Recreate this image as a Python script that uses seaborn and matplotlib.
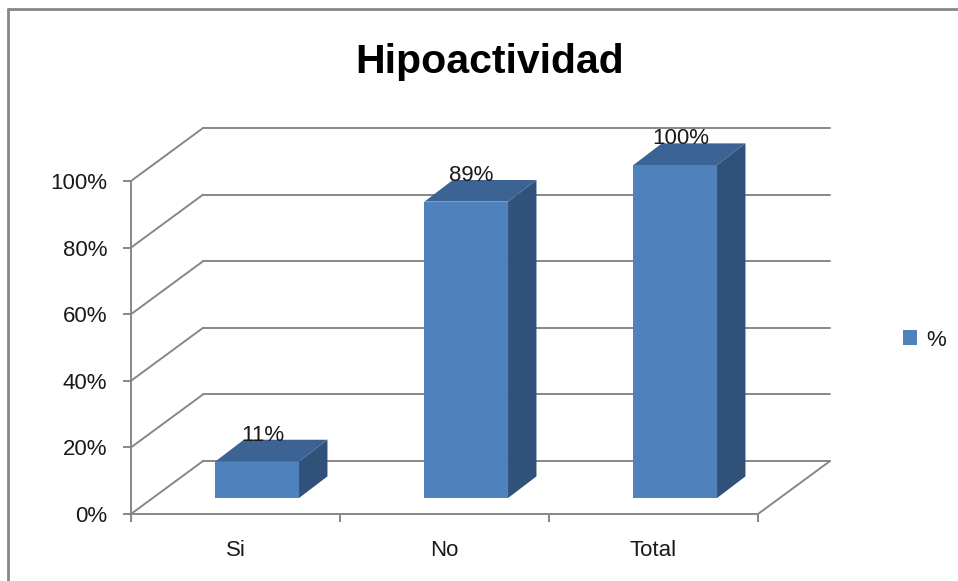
import matplotlib
matplotlib.use("Agg")
import matplotlib.pyplot as plt
from matplotlib.patches import Polygon
from matplotlib.lines import Line2D
import seaborn as sns

# datos del grafico
categories = ["Si", "No", "Total"]
values = [0.11, 0.89, 1.00]
value_labels = ["11%", "89%", "100%"]
y_ticks = [0.0, 0.2, 0.4, 0.6, 0.8, 1.0]
y_tick_labels = ["0%", "20%", "40%", "60%", "80%", "100%"]
series_name = "%"
title = "Hipoactividad"

# colores estilo Excel 3D
FRONT = "#4F81BD"
TOP = "#3B6393"
SIDE = "#30517A"
GRID = "#878787"
TEXT = "#1a1a1a"

# desplazamientos de la perspectiva (en unidades de datos)
WALL_DX, WALL_DY = 0.3445, 0.159   # pared del fondo
BAR_DX, BAR_DY = 0.104, 0.048      # plano frontal de las barras
DEPTH_DX, DEPTH_DY = 0.136, 0.065  # profundidad de cada barra

sns.set_theme(style="white")
plt.rcParams["font.family"] = ["Liberation Sans", "DejaVu Sans"]

W, H = 958, 581
fig = plt.figure(figsize=(W / 100, H / 100), dpi=100)
ax = fig.add_axes([131 / W, (H - 514) / H, (850 - 131) / W, (514 - 110) / H])

sns.barplot(x=categories, y=values, color=FRONT, width=0.4, saturation=1,
            label=series_name, ax=ax, zorder=3, linewidth=0)

# mover las barras al plano de profundidad y dibujar caras laterales y superiores
for p, lab in zip(ax.patches, value_labels):
    p.set_x(p.get_x() + BAR_DX)
    p.set_y(BAR_DY)
    x0, x1 = p.get_x(), p.get_x() + p.get_width()
    y0, y1 = BAR_DY, BAR_DY + p.get_height()
    side = Polygon([(x1, y0), (x1 + DEPTH_DX, y0 + DEPTH_DY),
                    (x1 + DEPTH_DX, y1 + DEPTH_DY), (x1, y1)],
                   closed=True, facecolor=SIDE, edgecolor="none", zorder=3)
    top = Polygon([(x0, y1), (x1, y1), (x1 + DEPTH_DX, y1 + DEPTH_DY),
                   (x0 + DEPTH_DX, y1 + DEPTH_DY)],
                  closed=True, facecolor=TOP, edgecolor="none", zorder=3)
    ax.add_patch(side)
    ax.add_patch(top)
    ax.text((x0 + x1) / 2 + 0.025, y1 + DEPTH_DY - 0.018, lab,
            ha="center", va="bottom", fontsize=16, color=TEXT, zorder=4)

# rejilla: diagonales del lateral y lineas de la pared del fondo
x_left, x_right = -0.5, len(categories) - 0.5
for v in y_ticks:
    ax.plot([x_left, x_left + WALL_DX], [v, v + WALL_DY], color=GRID, lw=1.4, zorder=1)
    ax.plot([x_left + WALL_DX, x_right + WALL_DX], [v + WALL_DY, v + WALL_DY],
            color=GRID, lw=1.4, zorder=1)
# borde derecho del suelo
ax.plot([x_right, x_right + WALL_DX], [0, WALL_DY], color=GRID, lw=1.4, zorder=1)

ax.set_xlim(-0.5, -0.5 + (850 - 131) / 209)
ax.set_ylim(0, (514 - 110) / 333)

for s in ["top", "right"]:
    ax.spines[s].set_visible(False)
ax.spines["left"].set_bounds(0, 1)
ax.spines["bottom"].set_bounds(x_left, x_right)
for s in ["left", "bottom"]:
    ax.spines[s].set_color(GRID)
    ax.spines[s].set_linewidth(1.4)

ax.set_yticks(y_ticks)
ax.set_yticklabels(y_tick_labels)
ax.set_xticks(range(len(categories)))
ax.set_xticklabels(categories)
ax.set_xticks([x_left + i for i in range(len(categories) + 1)], minor=True)
ax.tick_params(axis="y", which="major", left=True, length=6, width=1.4, color=GRID,
               pad=11, labelsize=16, labelcolor=TEXT)
ax.tick_params(axis="x", which="major", bottom=True, length=0, pad=19,
               labelsize=16, labelcolor=TEXT)
ax.tick_params(axis="x", which="minor", bottom=True, length=6, width=1.4,
               color=GRID, direction="out")
ax.set_xlabel("")
ax.set_ylabel("")

leg = ax.legend(loc="center left", bbox_to_anchor=(903 / W, (H - 340) / H),
                bbox_transform=fig.transFigure, frameon=False, fontsize=16,
                handlelength=0.63, handleheight=0.63, handletextpad=0.4,
                borderpad=0, borderaxespad=0)
for t in leg.get_texts():
    t.set_color(TEXT)

fig.text(490 / W, (H - 73) / H, title, ha="center", va="baseline",
         fontsize=29.5, fontweight="bold", color="black")

# marco del grafico
fig.add_artist(Line2D([8 / W, 8 / W], [0, (H - 9) / H], transform=fig.transFigure,
                      color="#878787", lw=2))
fig.add_artist(Line2D([8 / W, 1], [(H - 9) / H, (H - 9) / H], transform=fig.transFigure,
                      color="#878787", lw=2))

fig.savefig("out.png", dpi=100)
